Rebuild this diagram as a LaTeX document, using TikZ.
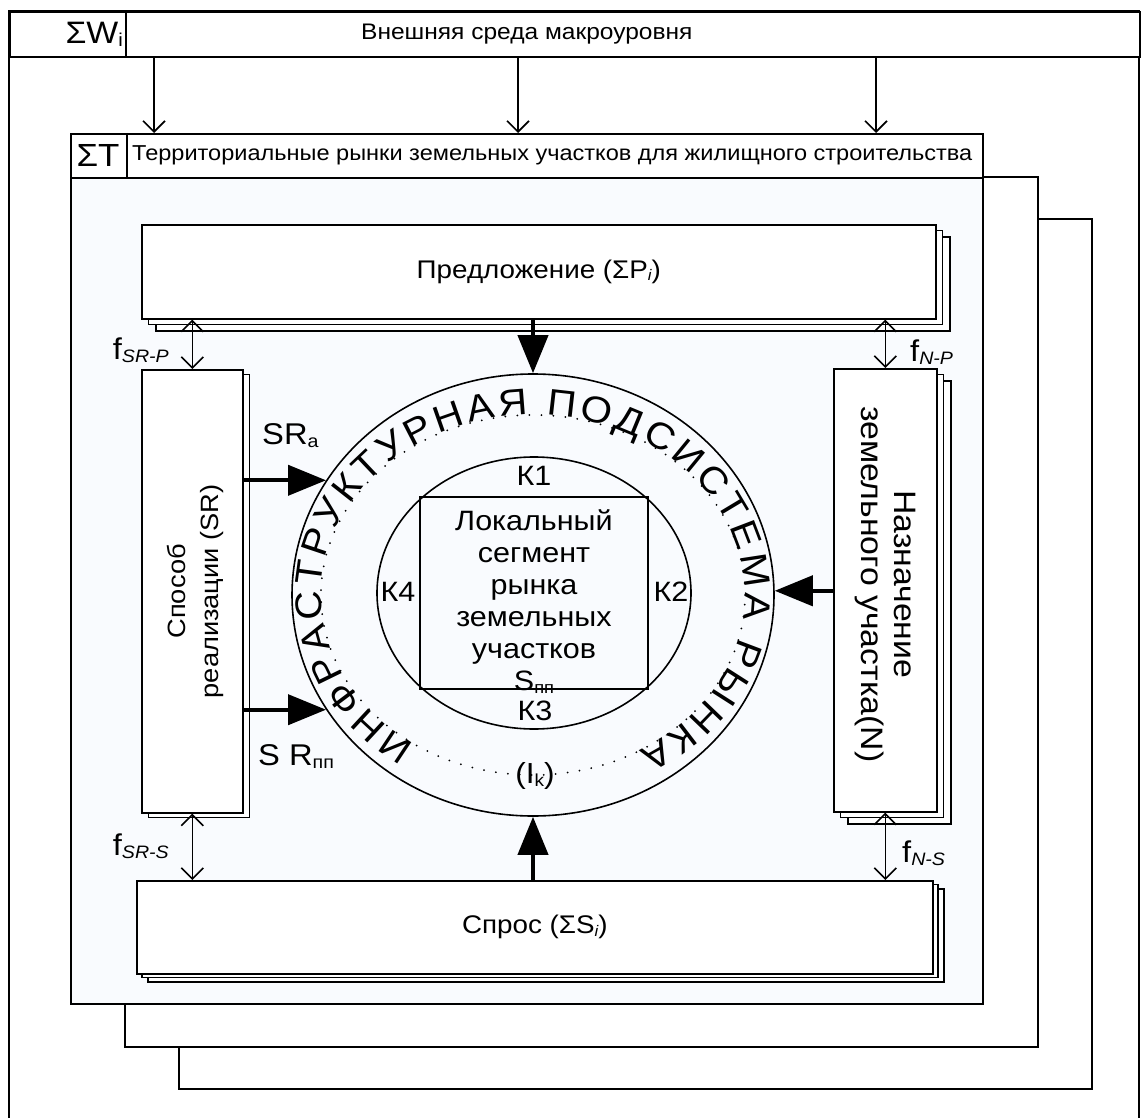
\documentclass[tikz,border=0pt]{standalone}
\usepackage{graphicx}
\usepackage{fontspec}
\setmainfont{Liberation Sans}[FakeStretch=1.09]
\usetikzlibrary{arrows.meta,shapes.geometric,decorations.text}

\definecolor{paneltint}{RGB}{249,251,254}
\newcommand{\fsz}[2]{\fontsize{#1}{#2}\selectfont}
\newcommand{\sbs}[1]{\raisebox{-0.1em}{\scalebox{0.6}{#1}}}
\newcommand{\ringfont}{\fontsize{37}{38}\selectfont}

\begin{document}
\begin{tikzpicture}[x=1pt,y=1pt,
  frame/.style={draw=black,line width=1.6pt},
  sheet/.style={draw=black,fill=white,line width=1.6pt,inner sep=0pt},
  thinarrow/.style={draw=black,line width=1.6pt,-{Straight Barb[length=11pt,width=22pt]}},
  dblarrow/.style={draw=black,line width=1.6pt,{Straight Barb[length=11pt,width=22pt]}-{Straight Barb[length=11pt,width=22pt]}},
  boldarrow/.style={draw=black,line width=4pt,-{Triangle[length=38pt,width=30pt]}},
  txt/.style={inner sep=0pt,text=black},
]
\useasboundingbox (0,0) rectangle (1141,-1118);
\fill[white] (0,0) rectangle (1141,-1118);

% nested territorial market frames, back to front
\draw[sheet] (179,-219) rectangle (1092,-1089);
\draw[sheet] (125,-177) rectangle (1038,-1047);
\node[sheet,fill=paneltint,anchor=north west,minimum width=912,minimum height=870] (tbox) at (70,-133) {};
\node[sheet,anchor=north west,minimum width=912,minimum height=44] (thead) at (70,-133) {};
\draw[frame] (127,-133) -- (127,-177);
\node[txt,font=\fsz{32}{36}] (tsym) at (98,-155) {ΣT};
\node[txt,font=\fsz{21.6}{26},anchor=west] (ttitle) at (132,-155) {Территориальные рынки земельных участков для жилищного строительства};

% macro-level environment frame
\draw[frame] (9,-1118) -- (9,-11) -- (1139,-11) -- (1139,-1118);
\node[sheet,anchor=north west,minimum width=1130,minimum height=45] (whead) at (9,-11) {};
\draw[frame] (126,-11) -- (126,-56);
\node[txt,font=\fsz{31}{36},anchor=east] (wsym) at (123,-34) {ΣW\sbs{i}};
\node[txt,font=\fsz{22.5}{26},anchor=west] (wtitle) at (361,-34) {Внешняя среда макроуровня};

% influence of the environment on the markets
\draw[thinarrow] ([xshift=145pt]whead.south west) -- ([xshift=84pt]thead.north west);
\draw[thinarrow] ([xshift=509pt]whead.south west) -- ([xshift=448pt]thead.north west);
\draw[thinarrow] ([xshift=867pt]whead.south west) -- ([xshift=806pt]thead.north west);

% supply
\draw[sheet] (156,-237) rectangle ++(794,-94);
\draw[sheet] (148.5,-230.5) rectangle ++(794,-94);
\node[sheet,anchor=north west,minimum width=794,minimum height=94] (P) at (141,-224) {};
\node[txt,font=\fsz{25.5}{30}] (Ptext) at (P) {Предложение (ΣP\sbs{\itshape i})};

% way of realisation
\draw[sheet] (148.5,-374.5) rectangle ++(101,-443);
\node[sheet,anchor=north west,minimum width=101,minimum height=443] (S) at (141,-369) {};
\node[txt,font=\fsz{25}{33},rotate=90,align=center] (Stext) at ([xshift=3pt]S.center) {Способ\\реализации (SR)};

% land use purpose
\draw[sheet] (848,-381) rectangle ++(103,-443);
\draw[sheet] (840.5,-374.5) rectangle ++(103,-443);
\node[sheet,anchor=north west,minimum width=103,minimum height=443] (N) at (833,-368) {};
\node[txt,font=\fsz{31}{33},rotate=-90,align=center] (Ntext) at ([yshift=6pt]N.center) {Назначение\\земельного участка(N)};

% demand
\draw[sheet] (148,-889) rectangle ++(796,-93);
\draw[sheet] (142,-884.5) rectangle ++(796,-93);
\node[sheet,anchor=north west,minimum width=796,minimum height=93] (Sp) at (136,-880) {};
\node[txt,font=\fsz{25.5}{30}] (Sptext) at (Sp) {Спрос (ΣS\sbs{\itshape i})};

% market infrastructure ring
\node[draw,line width=1.6pt,ellipse,minimum width=482,minimum height=442,inner sep=0pt] (ring) at (533,-595) {};
\draw[line width=2pt,line cap=round,dash pattern=on 0pt off 12pt] (ring.center) ellipse [x radius=212,y radius=180];
\path[decorate,decoration={text along path,text align=fit to path,
    text={|\ringfont|ИНФРАСТРУКТУРНАЯ ПОДСИСТЕМА РЫНКА}}]
  (ring.center) ++(236:212 and 180) arc[start angle=236,end angle=-60,x radius=212,y radius=180];

% local segment core
\node[draw,line width=1.6pt,ellipse,minimum width=314,minimum height=272,inner sep=0pt] (core) at (534,-593) {};
\node[draw,line width=1.6pt,minimum width=228,minimum height=192,inner sep=0pt] (seg) at (534,-593) {};
\node[txt,font=\fsz{28}{32},align=center] (segtext) at (534,-602) {Локальный\\сегмент\\рынка\\земельных\\участков\\S\sbs{пп}};
\node[txt,font=\fsz{28}{30}] (k1) at (534,-476) {К1};
\node[txt,font=\fsz{28}{30}] (k2) at (671,-592) {К2};
\node[txt,font=\fsz{28}{30}] (k3) at (535,-711) {К3};
\node[txt,font=\fsz{28}{30}] (k4) at (398,-592) {К4};
\node[txt,font=\fsz{29}{30}] (ik) at (535,-776) {(I\sbs{k})};

% flows into the ring
\draw[boldarrow] (P.south -| ring.north) -- (ring.north);
\draw[boldarrow] (Sp.north -| ring.south) -- (ring.south);
\draw[boldarrow] (S.east |- ring.151) -- (ring.151);
\draw[boldarrow] (S.east |- ring.209) -- (ring.209);
\draw[boldarrow] (N.west |- ring.1) -- (ring.1);
\node[txt,font=\fsz{30}{32},anchor=west] (sra) at (262,-436) {SR\sbs{a}};
\node[txt,font=\fsz{30}{32},anchor=west] (srpp) at (258,-757) {S R\sbs{пп}};

% mutual links between the factors
\draw[dblarrow] (S.north) -- (S.north |- P.south);
\draw[dblarrow] (N.north) -- (N.north |- P.south);
\draw[dblarrow] (S.south) -- (S.south |- Sp.north);
\draw[dblarrow] (N.south) -- (N.south |- Sp.north);
\node[txt,font=\fsz{30}{32},anchor=east] (fsrp) at (169,-350) {f\sbs{\itshape SR-P}};
\node[txt,font=\fsz{30}{32},anchor=west] (fnp) at (910,-352) {f\sbs{\itshape N-P}};
\node[txt,font=\fsz{30}{32},anchor=east] (fsrs) at (169,-846) {f\sbs{\itshape SR-S}};
\node[txt,font=\fsz{30}{32},anchor=west] (fns) at (902,-853) {f\sbs{\itshape N-S}};
\end{tikzpicture}
\end{document}
